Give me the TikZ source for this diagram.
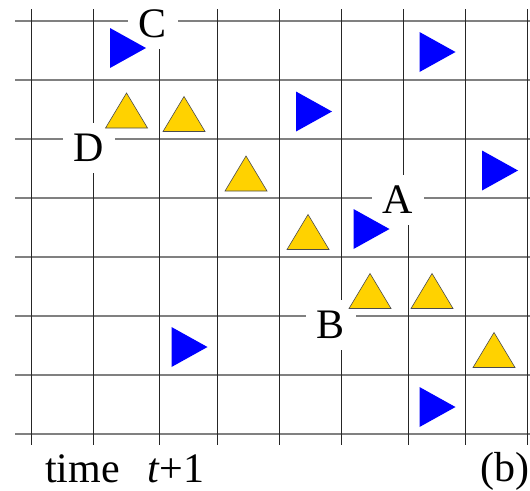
\documentclass[tikz,border=0pt]{standalone}
\usepackage{fontspec}
\setmainfont{Liberation Serif}
\definecolor{gold}{RGB}{255,210,0}

\begin{document}
\begin{tikzpicture}[
        x=1pt, y=-1pt,
        hline/.style={draw=black!50, line width=1.3pt},
        vline/.style={draw=black!85, line width=0.8pt},
        cellLabel/.style={
            fill=white, inner sep=11pt,
            font=\fontsize{42}{48}\selectfont
        },
        caption/.style={
            inner sep=0pt, anchor=base west,
            font=\fontsize{42}{48}\selectfont
        },
        particleR/.pic={\fill[blue] (-18,-20) -- (18,0) -- (-18,20) -- cycle;},
        particleU/.pic={\filldraw[fill=gold, draw=black!70, line width=0.6pt]
            (-21,17.5) -- (0,-17.5) -- (21,17.5) -- cycle;}
    ]
        \useasboundingbox (0,0) rectangle (530,490);

        % Grid
        \foreach \y in {21,80,139,198,257,316,375,434}
            \draw[hline] (15,\y) -- (530,\y);
        \foreach \x in {31,93,159,217,279,341,465,527}
            \draw[vline] (\x,9) -- (\x,445);
        \draw[vline] (403,9) -- (403,198);
        \draw[vline] (408,198) -- (408,445);

        % Labels
        \node (labelC) [cellLabel] at (153,24) {C};
        \node (labelD) [cellLabel] at (89,148) {D};
        \node (labelA) [cellLabel] at (398,200) {A};
        \node (labelB) [cellLabel] at (331,325) {B};

        % Particles
        \foreach \px/\py in {128/48, 437.5/52, 314/111.5, 500/170.5,
                             371.5/229, 189.5/347, 437.5/407}
            \pic at (\px,\py) {particleR};
        \foreach \px/\py in {126.5/110.5, 184/114, 246/173.5, 308/232,
                             370/291, 432/291, 494/350}
            \pic at (\px,\py) {particleU};

        % Captions
        \node (timeText) [caption] at (45,482) {time};
        \node (timeStep) [caption] at (147,482) {\textit{t}+1};
        \node (panelTag) [caption] at (480,481) {(b)};
    \end{tikzpicture}
\end{document}
